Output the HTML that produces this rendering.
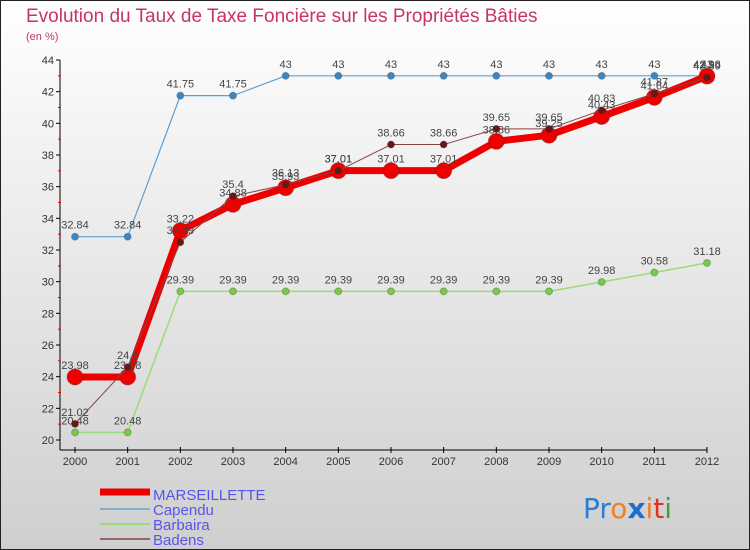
<!DOCTYPE html>
<html><head><meta charset="utf-8"><style>
body{margin:0}
svg{display:block;font-family:"Liberation Sans",sans-serif}
</style></head><body>
<svg width="750" height="550" viewBox="0 0 750 550">
<defs><linearGradient id="bg" x1="0" y1="0" x2="0" y2="1"><stop offset="0" stop-color="#ffffff"/><stop offset="1" stop-color="#cfcfcf"/></linearGradient></defs>
<rect x="0.5" y="0.5" width="749" height="549" fill="url(#bg)" stroke="#222"/>
<text x="26" y="22" font-size="19" fill="#c8326a">Evolution du Taux de Taxe Foncière sur les Propriétés Bâties</text>
<text x="26" y="40" font-size="11" fill="#c8326a">(en %)</text>
<g id="axes"></g>
<g id="series"></g>
<g id="legend" font-size="15" fill="#5555ee"></g>
<g font-size="28" font-family="'DejaVu Sans',sans-serif">
<text x="583" y="518"><tspan fill="#2a7fcf">Pr</tspan><tspan fill="#f08020">o</tspan><tspan fill="#1d6fcf" font-weight="bold">x</tspan><tspan fill="#f08020">i</tspan><tspan fill="#e03020">t</tspan><tspan fill="#40a040">i</tspan></text>
</g>
</svg>
<script>
const years=[2000,2001,2002,2003,2004,2005,2006,2007,2008,2009,2010,2011,2012];
const yTicks=[20,22,24,26,28,30,32,34,36,38,40,42,44];
const marseillette=[23.98,23.98,33.22,34.88,35.93,37.01,37.01,37.01,38.86,39.25,40.43,41.64,42.98];
const capendu=[32.84,32.84,41.75,41.75,43,43,43,43,43,43,43,43,43];
const barbaira=[20.48,20.48,29.39,29.39,29.39,29.39,29.39,29.39,29.39,29.39,29.98,30.58,31.18];
const badens=[21.02,24.6,32.49,35.4,36.13,37.01,38.66,38.66,39.65,39.65,40.83,41.87,42.89];
const NS='http://www.w3.org/2000/svg';
const x=i=>75+i*(707-75)/(years.length-1);
const y=v=>440-(v-20)*(440-60)/24;
function mk(tag,attrs,parent,txt){const e=document.createElementNS(NS,tag);for(const k in attrs)e.setAttribute(k,attrs[k]);if(txt!==undefined)e.textContent=txt;parent.appendChild(e);return e;}
const ax=document.getElementById('axes');
let e=mk('line',{x1:60,y1:60,x2:60,y2:450,stroke:'#000'},ax);


e=mk('line',{x1:60,y1:450,x2:707,y2:450,stroke:'#000'},ax);


yTicks.forEach(t=>{
 mk('line',{x1:56,y1:y(t),x2:60,y2:y(t),stroke:'#000'},ax);
 if(t<44) mk('line',{x1:58,y1:y(t+1),x2:61,y2:y(t+1),stroke:'#e00'},ax);
 e=mk('text',{x:54,y:y(t)+4,'font-size':11,fill:'#333','text-anchor':'end'},ax,t);
 
 
});
years.forEach((yr,i)=>{
 mk('line',{x1:x(i),y1:447,x2:x(i),y2:453,stroke:'#000'},ax);
 e=mk('text',{x:x(i),y:465,'font-size':11,fill:'#333','text-anchor':'middle'},ax,yr);
 
 
});
const sg=document.getElementById('series');
function series(data,name,color,w,r,dot){
 const g=mk('g',{},sg);
 
 
 const p=mk('polyline',{points:data.map((v,i)=>x(i)+','+y(v)).join(' '),fill:'none',stroke:color,'stroke-width':w,'stroke-linejoin':'round'},g);
 
 
 data.forEach((v,i)=>{
  const c=mk('circle',{cx:x(i),cy:y(v),r:r,fill:dot,stroke:'#333','stroke-opacity':0.3},g);
  
  
  const t=mk('text',{x:x(i),y:y(v)-8,'font-size':11,fill:'#444','text-anchor':'middle'},g,String(v).replace('.','.'));
  
  
 });
}
series(capendu,'capendu','#5a9fd4',1.2,3.5,'#3a87c8');
series(barbaira,'barbaira','#99dd77',1.5,3.5,'#77cc44');
series(marseillette,'marseillette','#ee0000',7,8,'#ee0000');
series(badens,'badens','#884444',1,3.5,'#661818');
const lg=document.getElementById('legend');
const items=[['MARSEILLETTE','#ee0000',7],['Capendu','#7fb0d0',2],['Barbaira','#99dd77',2],['Badens','#996666',2]];
items.forEach((it,i)=>{
 const yy=494+i*15;
 const g=mk('g',{},lg);
 
 
 mk('line',{x1:100,y1:yy+(i?0:-2),x2:150,y2:yy+(i?0:-2),stroke:it[1],'stroke-width':it[2]},g);
 mk('text',{x:153,y:yy+6},g,it[0]);
});
</script>
</body></html>
